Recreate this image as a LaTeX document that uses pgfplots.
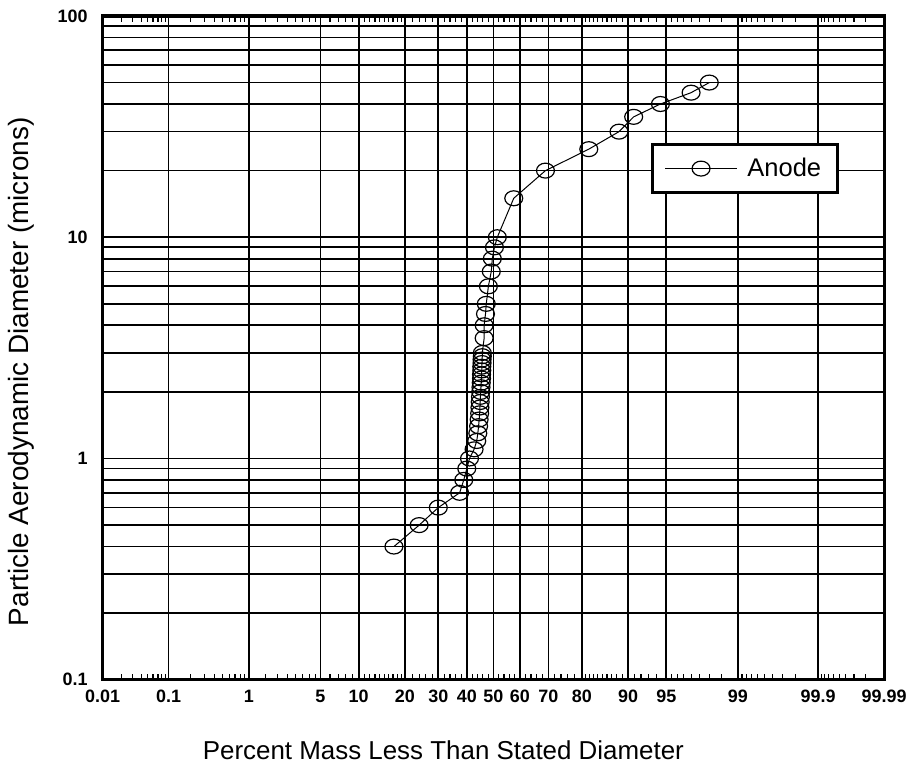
\documentclass[border=0pt]{standalone}
\usepackage{fontspec}
\setmainfont{Liberation Sans}
\usepackage{pgfplots}
\pgfplotsset{compat=1.18}
\usetikzlibrary{calc}

\begin{document}
\begin{tikzpicture}
\begin{axis}[
    scale only axis,
    width=392pt, height=333pt,
    ymode=log,
    ymin=0.1, ymax=100,
    xmin=0.01, xmax=99.99,
    % normal probability scale (Abramowitz-Stegun 26.2.23 for the probit)
    x coord trafo/.code={%
        \pgfmathsetmacro\probq{min(#1,100-#1)}%
        \pgfmathsetmacro\probt{sqrt(2*(4.605170-ln(\probq)))}%
        \pgfmathparse{((#1<50)?-1:1)*(\probt-(2.515517+0.802853*\probt+0.010328*\probt*\probt)/(1+1.432788*\probt+0.189269*\probt*\probt+0.001308*\probt*\probt*\probt))}%
    },
    xtick={0.01,0.1,1,5,10,20,30,40,50,60,70,80,90,95,99,99.9,99.99},
    xticklabels={0.01,0.1,1,5,10,20,30,40,50,60,70,80,90,95,99,99.9,99.99},
    minor xtick={0.02,0.03,0.04,0.05,0.06,0.07,0.08,0.09,
        0.2,0.3,0.4,0.5,0.6,0.7,0.8,0.9,
        1.5,2,2.5,3,3.5,4,4.5,6,7,8,9,
        11,12,13,14,15,16,17,18,19,
        22,24,26,28,32,34,36,38,42,44,46,48,52,54,56,58,
        62,64,66,68,72,74,76,78,
        81,82,83,84,85,86,87,88,89,91,92,93,94,
        95.5,96,96.5,97,97.5,98,98.5,
        99.1,99.2,99.3,99.4,99.5,99.6,99.7,99.8,
        99.91,99.92,99.93,99.94,99.95,99.96,99.97,99.98},
    ytick={0.1,1,10,100},
    yticklabels={0.1,1,10,100},
    minor ytick={0.2,0.3,0.4,0.5,0.6,0.7,0.8,0.9,2,3,4,5,6,7,8,9,20,30,40,50,60,70,80,90},
    xmajorgrids, ymajorgrids, yminorgrids, xminorgrids=false,
    major grid style={line width=0.85pt, black},
    minor grid style={line width=0.85pt, black},
    axis line style={line width=1.6pt},
    tick align=inside,
    major tick length=0pt,
    minor tick length=3pt,
    minor tick style={line width=0.6pt, black},
    tick label style={font=\fontsize{9}{11}\selectfont\bfseries},
    xticklabel style={text height=6.7pt, text depth=0pt, yshift=-1pt},
    yticklabel style={xshift=-4pt},
    xlabel={Percent Mass Less Than Stated Diameter},
    ylabel={Particle Aerodynamic Diameter (microns)},
    xlabel style={font=\fontsize{13}{15}\selectfont, at={(ticklabel cs:0.436,12.5pt)}, anchor=north},
    ylabel style={font=\fontsize{14}{16}\selectfont, at={(ticklabel cs:0.464,5pt)}, anchor=south},
    legend style={at={(rel axis cs:0.702,0.808)}, anchor=north west,
        draw=black, line width=1.5pt, inner xsep=6pt, inner ysep=4.5pt,
        font=\fontsize{12.8}{15}\selectfont, cells={anchor=west}},
    legend image post style={line width=0.5pt},
    legend image code/.code={%
        \draw[mark repeat=2,mark phase=2] plot coordinates {(0pt,0pt) (18pt,0pt) (36pt,0pt)};},
]
\addplot[black, line width=0.5pt, mark=o, mark size=3.75pt,
    mark options={xscale=1.2, line width=0.6pt}] coordinates {
    (17.2,0.4) (24,0.5) (30,0.6) (37.4,0.7) (38.9,0.8) (40,0.9) (41,1.0)
    (42.7,1.1) (43.7,1.2) (44.1,1.3) (44.4,1.4) (44.6,1.5) (44.8,1.6)
    (44.9,1.7) (45,1.8) (45.1,1.9) (45.2,2.0) (45.3,2.1) (45.4,2.2)
    (45.5,2.3) (45.5,2.4) (45.6,2.5) (45.6,2.6) (45.7,2.7) (45.7,2.8)
    (45.8,2.9) (45.8,3.0) (46.5,3.5) (46.5,4) (47,4.5) (47.3,5) (48.1,6)
    (49.2,7) (49.6,8) (50.4,9) (51.5,10) (57.7,15) (69,20) (81.8,25)
    (88.4,30) (90.9,35) (94.4,40) (97,45) (98,50)
};
\addlegendentry{\hspace{3pt}Anode\hspace{18pt}}
\end{axis}
\pgfresetboundingbox
\path[use as bounding box] ($(current axis.south west)+(-51.5pt,-44.5pt)$) rectangle ($(current axis.north east)+(12pt,8pt)$);
\end{tikzpicture}
\end{document}
